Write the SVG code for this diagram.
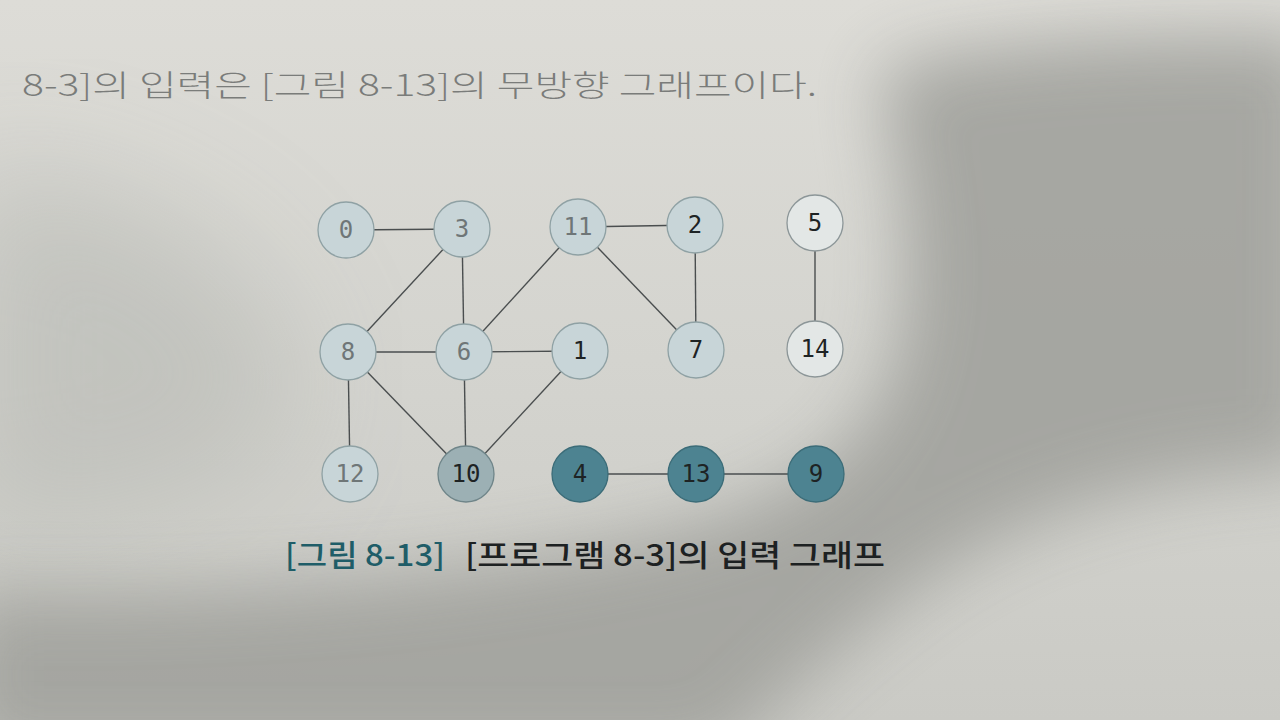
<svg xmlns="http://www.w3.org/2000/svg" width="1280" height="720" viewBox="0 0 1280 720">
  <defs>
    <linearGradient id="bg" x1="0" y1="0" x2="0" y2="1">
      <stop offset="0" stop-color="#dddcd7"/>
      <stop offset="0.5" stop-color="#d4d4cf"/>
      <stop offset="1" stop-color="#cacac5"/>
    </linearGradient>
    <filter id="blur" x="-30%" y="-30%" width="160%" height="160%">
      <feGaussianBlur stdDeviation="35"/>
    </filter>
    <filter id="blurL" x="-30%" y="-30%" width="160%" height="160%">
      <feGaussianBlur stdDeviation="60"/>
    </filter>
    <style>
      .edge { stroke: #4a4e4f; stroke-width: 1.4; fill: none; }
      .node { stroke: #8fa1a4; stroke-width: 1.3; }
      .light { fill: #c8d5d8; }
      .white { fill: #e3e7e6; stroke: #8c9698; }
      .mid { fill: #9cb0b4; stroke: #6f8589; }
      .teal { fill: #4d8391; stroke: #3b6c78; }
      .lbl { font-family: "DejaVu Sans Mono", "Liberation Mono", monospace; font-size: 24px; text-anchor: middle; dominant-baseline: central; }
      .faint { fill: #6f7677; }
      .dark { fill: #1e2324; }
      .top { font-family: "Noto Sans CJK KR", "Noto Sans", sans-serif; font-size: 30px; font-weight: 300; fill: #7a7c7a; }
      .cap { font-family: "Noto Sans CJK KR", "Noto Sans", sans-serif; font-size: 30px; font-weight: 500; }
    </style>
  </defs>

  <!-- photographed page background -->
  <rect x="0" y="0" width="1280" height="720" fill="url(#bg)"/>
  <path filter="url(#blurL)" fill="#bebfba" opacity="0.8" d="M -40,170 C 120,180 260,240 300,380 C 300,470 220,520 -40,540 Z"/>
  <path filter="url(#blur)" fill="#a2a39e" opacity="0.92" d="M 880,70 C 1000,35 1200,35 1320,35 L 1320,470 C 1150,470 1000,520 900,600 C 820,660 760,720 720,760 L -40,760 L -40,590 C 200,600 460,580 680,530 C 860,480 905,400 905,270 C 905,190 885,110 880,70 Z"/>

  <!-- introductory sentence (clipped at the left edge in the photo) -->
  <text class="top" x="22" y="96" textLength="795" lengthAdjust="spacingAndGlyphs">8-3]의 입력은 [그림 8-13]의 무방향 그래프이다.</text>

  <!-- connectors -->
  <g id="edges">
    <line class="edge" x1="346" y1="230" x2="462" y2="229"/>
    <line class="edge" x1="578" y1="227" x2="695" y2="225"/>
    <line class="edge" x1="462" y1="229" x2="348" y2="352"/>
    <line class="edge" x1="462" y1="229" x2="464" y2="352"/>
    <line class="edge" x1="578" y1="227" x2="464" y2="352"/>
    <line class="edge" x1="578" y1="227" x2="696" y2="350"/>
    <line class="edge" x1="695" y1="225" x2="696" y2="350"/>
    <line class="edge" x1="815" y1="223" x2="815" y2="349"/>
    <line class="edge" x1="348" y1="352" x2="464" y2="352"/>
    <line class="edge" x1="464" y1="352" x2="580" y2="351"/>
    <line class="edge" x1="348" y1="352" x2="350" y2="474"/>
    <line class="edge" x1="348" y1="352" x2="466" y2="474"/>
    <line class="edge" x1="464" y1="352" x2="466" y2="474"/>
    <line class="edge" x1="580" y1="351" x2="466" y2="474"/>
    <line class="edge" x1="580" y1="474" x2="696" y2="474"/>
    <line class="edge" x1="696" y1="474" x2="816" y2="474"/>
  </g>

  <!-- nodes -->
  <g id="n0"><circle class="node light" cx="346" cy="230" r="28"/><text class="lbl faint" x="346" y="230">0</text></g>
  <g id="n3"><circle class="node light" cx="462" cy="229" r="28"/><text class="lbl faint" x="462" y="229">3</text></g>
  <g id="n11"><circle class="node light" cx="578" cy="227" r="28"/><text class="lbl faint" x="578" y="227">11</text></g>
  <g id="n2"><circle class="node light" cx="695" cy="225" r="28"/><text class="lbl dark" x="695" y="225">2</text></g>
  <g id="n5"><circle class="node white" cx="815" cy="223" r="28"/><text class="lbl dark" x="815" y="223">5</text></g>
  <g id="n8"><circle class="node light" cx="348" cy="352" r="28"/><text class="lbl faint" x="348" y="352">8</text></g>
  <g id="n6"><circle class="node light" cx="464" cy="352" r="28"/><text class="lbl faint" x="464" y="352">6</text></g>
  <g id="n1"><circle class="node light" cx="580" cy="351" r="28"/><text class="lbl dark" x="580" y="351">1</text></g>
  <g id="n7"><circle class="node light" cx="696" cy="350" r="28"/><text class="lbl dark" x="696" y="350">7</text></g>
  <g id="n14"><circle class="node white" cx="815" cy="349" r="28"/><text class="lbl dark" x="815" y="349">14</text></g>
  <g id="n12"><circle class="node light" cx="350" cy="474" r="28"/><text class="lbl faint" x="350" y="474">12</text></g>
  <g id="n10"><circle class="node mid" cx="466" cy="474" r="28"/><text class="lbl dark" x="466" y="474">10</text></g>
  <g id="n4"><circle class="node teal" cx="580" cy="474" r="28"/><text class="lbl dark" x="580" y="474">4</text></g>
  <g id="n13"><circle class="node teal" cx="696" cy="474" r="28"/><text class="lbl dark" x="696" y="474">13</text></g>
  <g id="n9"><circle class="node teal" cx="816" cy="474" r="28"/><text class="lbl dark" x="816" y="474">9</text></g>

  <!-- caption -->
  <text class="cap" x="285" y="566" fill="#1f5d68" textLength="160" lengthAdjust="spacingAndGlyphs">[그림 8-13]</text>
  <text class="cap" x="465" y="566" fill="#1d2122" textLength="420" lengthAdjust="spacingAndGlyphs">[프로그램 8-3]의 입력 그래프</text>
</svg>
